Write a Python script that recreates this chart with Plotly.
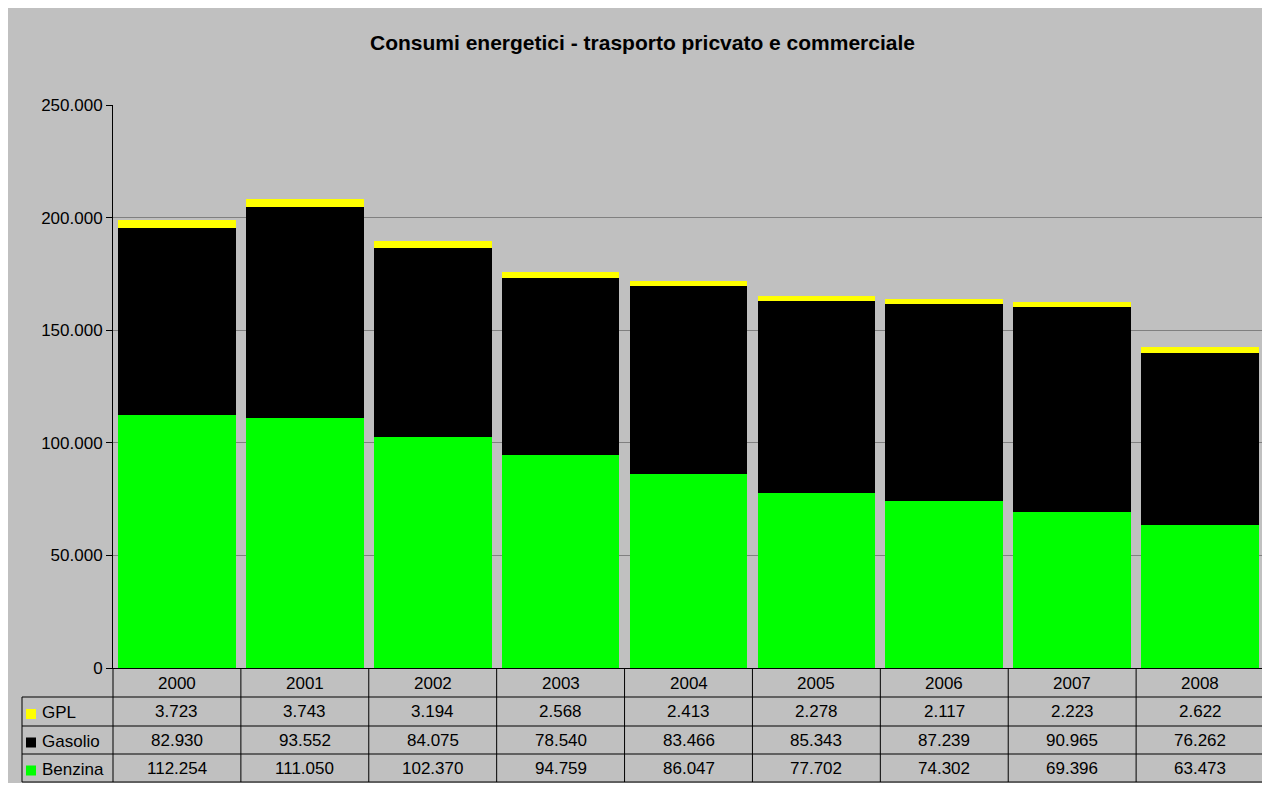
import plotly.graph_objects as go

years = ["2000", "2001", "2002", "2003", "2004", "2005", "2006", "2007", "2008"]
gpl = [3723, 3743, 3194, 2568, 2413, 2278, 2117, 2223, 2622]
gasolio = [82930, 93552, 84075, 78540, 83466, 85343, 87239, 90965, 76262]
benzina = [112254, 111050, 102370, 94759, 86047, 77702, 74302, 69396, 63473]

series = [("Benzina", benzina, "#00FF00"), ("Gasolio", gasolio, "#000000"), ("GPL", gpl, "#FFFF00")]
table_rows = [("GPL", gpl, "#FFFF00"), ("Gasolio", gasolio, "#000000"), ("Benzina", benzina, "#00FF00")]

OFF = 8  # page body margin
W, H = 1262, 775
L, T = 113 - OFF, 105 - OFF
R = W - (1264 - OFF)
B = H - (668 - OFF)
pw, ph = W - L - R, H - T - B
FONT = "Liberation Sans, Arial, sans-serif"

def px(x):  # page x -> paper
    return (x - OFF - L) / pw

def py(y):  # page y -> paper
    return (H - B - (y - OFF)) / ph

fig = go.Figure()
for name, vals, col in series:
    fig.add_trace(go.Bar(x=years, y=vals, name=name, marker=dict(color=col, line=dict(width=0))))

shapes = []
annotations = []
n = len(years)
# right border of plot area
shapes.append(dict(type="line", xref="paper", yref="paper", x0=1, x1=1, y0=0, y1=1, line=dict(color="#808080", width=2)))

row_bounds = [668, 697, 726, 754, 782]
for yb in row_bounds[1:]:
    shapes.append(dict(type="line", xref="paper", yref="paper", x0=px(22), x1=1, y0=py(yb), y1=py(yb), line=dict(color="black", width=1)))
shapes.append(dict(type="line", xref="paper", yref="paper", x0=px(22), x1=px(22), y0=py(697), y1=py(782), line=dict(color="black", width=1)))
for i in range(n + 1):
    shapes.append(dict(type="line", xref="paper", yref="paper", x0=i / n, x1=i / n, y0=py(668), y1=py(782), line=dict(color="black", width=1)))

for i, yr in enumerate(years):
    annotations.append(dict(x=(i + 0.5) / n, y=py((668 + 697) / 2 + 1), xref="paper", yref="paper", text=yr, showarrow=False,
                            font=dict(size=17, color="black", family=FONT), xanchor="center", yanchor="middle"))

for r, (name, vals, col) in enumerate(table_rows):
    y0, y1 = row_bounds[r + 1], row_bounds[r + 2]
    yc = (y0 + y1) / 2
    shapes.append(dict(type="rect", xref="paper", yref="paper", x0=px(26), x1=px(36), y0=py(yc - 2.5), y1=py(yc + 7.5), fillcolor=col, line=dict(width=0)))
    annotations.append(dict(x=px(40), y=py(yc + 1), xref="paper", yref="paper", text=name, showarrow=False,
                            font=dict(size=17, color="black", family=FONT), xanchor="left", yanchor="middle"))
    for i, v in enumerate(vals):
        txt = f"{v:,}".replace(",", ".")
        annotations.append(dict(x=(i + 0.5) / n, y=py(yc), xref="paper", yref="paper", text=txt, showarrow=False,
                                font=dict(size=17, color="black", family=FONT), xanchor="center", yanchor="middle"))

fig.update_layout(
    width=W, height=H,
    margin=dict(l=L, r=R, t=T, b=B, pad=0),
    paper_bgcolor="#C0C0C0", plot_bgcolor="#C0C0C0",
    barmode="stack", bargap=0.08,
    showlegend=False,
    separators=",.",
    title=dict(text="<b>Consumi energetici - trasporto pricvato e commerciale</b>", x=px(642.5), xref="paper", xanchor="center",
               y=1 - (43 - OFF) / H, yanchor="middle", font=dict(size=21, color="black", family=FONT)),
    font=dict(family=FONT, size=17, color="black"),
    shapes=shapes, annotations=annotations,
)
fig.update_xaxes(type="category", range=[-0.5, n - 0.5], showticklabels=False, ticks="", showgrid=False,
                 showline=True, linecolor="black", linewidth=1, zeroline=False)
fig.update_yaxes(range=[0, 250000], tickvals=[0, 50000, 100000, 150000, 200000, 250000], tickformat=",d",
                 ticks="outside", ticklen=6, tickcolor="black", showline=True, linecolor="black", linewidth=1,
                 showgrid=True, gridcolor="#808080", gridwidth=1, zeroline=False,
                 tickfont=dict(size=17, color="black", family=FONT))

fig.write_html("out.html")
